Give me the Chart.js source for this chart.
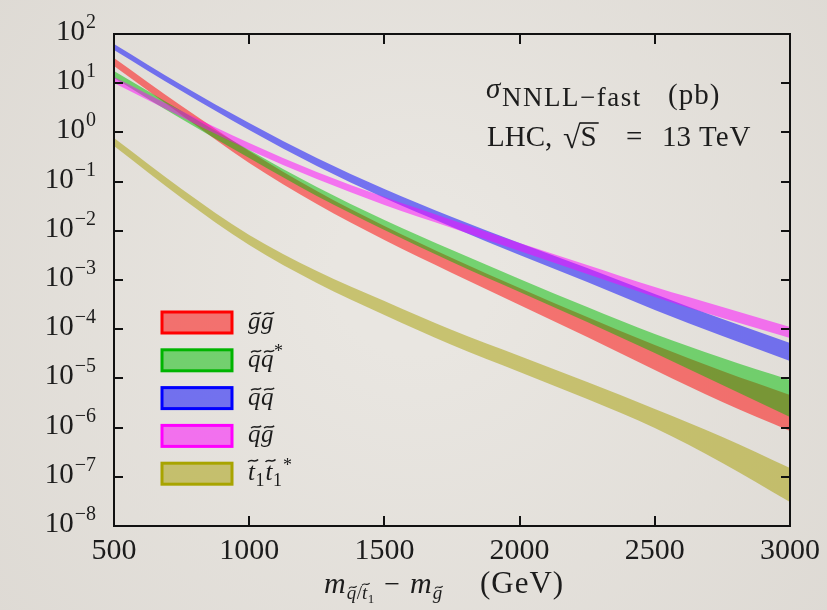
<!DOCTYPE html>
<html><head><meta charset="utf-8">
<script src="https://cdn.jsdelivr.net/npm/chart.js@4.4.1/dist/chart.umd.min.js"></script>
<style>html,body{margin:0;padding:0;background:#e7e4df;}canvas{display:block;}</style>
</head><body>
<canvas id="c" width="827" height="610"></canvas>
<script>
// Mass points (GeV) and NNLL-fast cross sections (pb): upper / lower edge of each band
const massGeV = [500, 750, 1000, 1250, 1500, 1750, 2000, 2250, 2500, 2750, 3000];
const processNames = ['g\u0303g\u0303', 'q\u0303q\u0303*', 'q\u0303q\u0303', 'q\u0303g\u0303', 't\u0303\u2081t\u0303\u2081*'];
const ggUpper = [32.5, 3.44, 0.419, 0.0644, 0.0125, 0.00280, 0.000688, 0.000177, 4.77e-5, 1.41e-5, 4.60e-6];
const ggLower = [22.4, 2.26, 0.239, 0.0351, 0.00650, 0.00139, 0.000310, 6.94e-5, 1.48e-5, 3.31e-6, 8.53e-7];
const sqAntisqUpper = [17.7, 2.72, 0.439, 0.0777, 0.0166, 0.00407, 0.00105, 0.000283, 7.99e-5, 2.60e-5, 9.28e-6];
const sqAntisqLower = [12.8, 1.87, 0.302, 0.0510, 0.0104, 0.00232, 0.000570, 0.000140, 3.28e-5, 7.34e-6, 1.64e-6];
const sqSqUpper = [62.6, 9.19, 1.55, 0.302, 0.0707, 0.0191, 0.00565, 0.00175, 0.000519, 0.000161, 5.24e-5];
const sqSqLower = [47.3, 6.94, 1.12, 0.208, 0.0464, 0.0120, 0.00322, 0.000911, 0.000246, 7.27e-5, 2.26e-5];
const sqGlUpper = [13.4, 2.72, 0.609, 0.157, 0.0486, 0.0166, 0.00565, 0.00202, 0.000721, 0.000283, 0.000111];
const sqGlLower = [10.1, 2.06, 0.439, 0.113, 0.0335, 0.0114, 0.00388, 0.00132, 0.000451, 0.000169, 6.62e-5];
const stopUpper = [0.769, 0.0707, 0.00822, 0.00152, 0.000374, 9.63e-5, 2.85e-5, 8.45e-6, 2.39e-6, 6.44e-7, 1.51e-7];
const stopLower = [0.529, 0.0464, 0.00514, 0.000869, 0.000194, 4.77e-5, 1.35e-5, 3.81e-6, 9.81e-7, 1.91e-7, 3.07e-8];
const xTickValues = [500, 1000, 1500, 2000, 2500, 3000];
const yTickExponents = [2, 1, 0, -1, -2, -3, -4, -5, -6, -7, -8];

const bandEdge = ['#ff0000', '#00b400', '#0000ff', '#ff00ff', '#a8a400'];
const bandFill = ['rgba(255,0,0,0.5)', 'rgba(0,190,0,0.5)', 'rgba(0,0,255,0.5)', 'rgba(255,0,255,0.5)', 'rgba(165,158,0,0.5)'];
// higher order is painted first, so green lies over red
const bandOrder = [5, 4, 3, 2, 1];

const bands = [
  [ggUpper, ggLower], [sqAntisqUpper, sqAntisqLower], [sqSqUpper, sqSqLower],
  [sqGlUpper, sqGlLower], [stopUpper, stopLower]
];

const SERIF = '"Liberation Serif", "DejaVu Serif", serif';
const INK = '#1c1c1c';

const datasets = [];
bands.forEach((b, i) => {
  datasets.push({
    label: processNames[i],
    data: massGeV.map((m, k) => ({ x: m, y: b[0][k] })),
    fill: '+1', backgroundColor: bandFill[i], borderColor: 'rgba(0,0,0,0)',
    borderWidth: 0, pointRadius: 0, cubicInterpolationMode: 'monotone', order: bandOrder[i]
  });
  datasets.push({
    label: processNames[i] + ' low',
    data: massGeV.map((m, k) => ({ x: m, y: b[1][k] })),
    fill: false, borderColor: 'rgba(0,0,0,0)', borderWidth: 0, pointRadius: 0,
    cubicInterpolationMode: 'monotone', order: bandOrder[i]
  });
});

// tilde accent centred at cx
function tilde(ctx, cx, y, half) {
  ctx.beginPath();
  ctx.moveTo(cx - half, y + 1.2);
  ctx.bezierCurveTo(cx - half * 0.4, y - 2.6, cx + half * 0.4, y + 2.6, cx + half, y - 1.2);
  ctx.stroke();
}

// labels such as "q̃q̃*" or "t̃₁t̃₁*": italic letters, tildes, subscript 1, superscript *
function mathText(ctx, str, x, base, size) {
  ctx.save();
  ctx.fillStyle = INK; ctx.strokeStyle = INK; ctx.lineWidth = size * 0.06;
  ctx.textBaseline = 'alphabetic'; ctx.textAlign = 'left';
  const chars = Array.from(str);
  for (let i = 0; i < chars.length; i++) {
    const c = chars[i];
    if (c === '\u0303') continue;
    if (c === '\u2081') {
      ctx.font = `${Math.round(size * 0.7)}px ${SERIF}`;
      ctx.fillText('1', x, base + size * 0.22);
      x += ctx.measureText('1').width + 1;
      continue;
    }
    if (c === '*') {
      ctx.font = `${Math.round(size * 0.7)}px ${SERIF}`;
      ctx.fillText('*', x, base - size * 0.38);
      x += ctx.measureText('*').width;
      continue;
    }
    if (c === '/') {
      ctx.font = `${size}px ${SERIF}`;
      ctx.fillText('/', x, base);
      x += ctx.measureText('/').width;
      continue;
    }
    ctx.font = `italic ${size}px ${SERIF}`;
    ctx.fillText(c, x, base);
    const w = ctx.measureText(c).width;
    if (chars[i + 1] === '\u0303') {
      const top = (c === 't') ? base - size * 0.78 : base - size * 0.62;
      tilde(ctx, x + w * 0.55 + size * 0.05, top, size * 0.2);
    }
    x += w + 0.5;
  }
  ctx.restore();
  return x;
}

function spaced(ctx, text, x, y, spacing) {
  ctx.save();
  ctx.letterSpacing = spacing + 'px';
  ctx.fillText(text, x, y);
  const w = ctx.measureText(text).width;
  ctx.restore();
  return w;
}

const decorPlugin = {
  id: 'decor',
  beforeDraw(chart) {
    const { ctx, width, height } = chart;
    const g = ctx.createRadialGradient(width * 0.5, height * 0.45, 80, width * 0.5, height * 0.5, 600);
    g.addColorStop(0, '#e9e6e1');
    g.addColorStop(1, '#dcd8d2');
    ctx.save(); ctx.fillStyle = g; ctx.fillRect(0, 0, width, height); ctx.restore();
  },
  afterDraw(chart) {
    const { ctx, chartArea: a, scales } = chart;
    const xs = scales.x, ys = scales.y;
    ctx.save();
    // frame
    ctx.strokeStyle = '#111'; ctx.lineWidth = 2;
    ctx.strokeRect(a.left, a.top, a.right - a.left, a.bottom - a.top);
    // inward ticks on all four sides
    yTickExponents.forEach(e => {
      const y = Math.round(ys.getPixelForValue(Math.pow(10, e)));
      ctx.beginPath();
      ctx.moveTo(a.left, y); ctx.lineTo(a.left + 9, y);
      ctx.moveTo(a.right, y); ctx.lineTo(a.right - 9, y);
      ctx.stroke();
    });
    xTickValues.forEach(v => {
      const x = Math.round(xs.getPixelForValue(v));
      ctx.beginPath();
      ctx.moveTo(x, a.bottom); ctx.lineTo(x, a.bottom - 10);
      ctx.moveTo(x, a.top); ctx.lineTo(x, a.top + 10);
      ctx.stroke();
    });
    // y tick labels 10^n
    ctx.fillStyle = INK; ctx.textBaseline = 'alphabetic';
    yTickExponents.forEach(e => {
      const y = ys.getPixelForValue(Math.pow(10, e));
      const exp = e < 0 ? '\u2212' + Math.abs(e) : String(e);
      ctx.font = `20px ${SERIF}`;
      ctx.textAlign = 'right';
      ctx.fillText(exp, 96, y - 6);
      const ew = ctx.measureText(exp).width;
      ctx.font = `29px ${SERIF}`;
      ctx.fillText('10', 96 - ew - 1, y + 6);
    });
    // x axis title: m_{q̃/t̃1} − m_g̃ (GeV)
    let x = 324;
    const tb = 593;
    ctx.textAlign = 'left';
    ctx.font = `italic 30px ${SERIF}`;
    ctx.fillText('m', x, tb); x += ctx.measureText('m').width;
    x = mathText(ctx, 'q\u0303/t\u0303\u2081', x + 1, tb + 6, 19);
    ctx.font = `28px ${SERIF}`;
    ctx.fillText('\u2212', x + 9, tb); x += 9 + ctx.measureText('\u2212').width + 10;
    ctx.font = `italic 30px ${SERIF}`;
    ctx.fillText('m', x, tb); x += ctx.measureText('m').width;
    x = mathText(ctx, 'g\u0303', x + 1, tb + 6, 19);
    ctx.font = `31px ${SERIF}`;
    spaced(ctx, '(GeV)', 480, tb, 1);
    // process and collider annotation
    ctx.font = `italic 29px ${SERIF}`;
    ctx.fillText('\u03c3', 486, 98);
    ctx.font = `27px ${SERIF}`;
    spaced(ctx, 'NNLL\u2212fast', 502, 106, 1.5);
    ctx.font = `29px ${SERIF}`;
    spaced(ctx, '(pb)', 668, 104, 1);
    const b2 = 146;
    ctx.fillText('LHC,', 487, b2);
    ctx.font = `32px ${SERIF}`;
    const rootX = 563;
    ctx.fillText('\u221a', rootX, b2 + 2);
    const rw = ctx.measureText('\u221a').width;
    ctx.font = `29px ${SERIF}`;
    const sx = rootX + rw;
    ctx.fillText('S', sx, b2);
    const sw = ctx.measureText('S').width;
    ctx.lineWidth = 1.6; ctx.strokeStyle = INK;
    ctx.beginPath(); ctx.moveTo(sx - 1, b2 - 23); ctx.lineTo(sx + sw + 2, b2 - 23); ctx.stroke();
    ctx.fillText('=', 626, b2);
    ctx.fillText('13', 662, b2);
    spaced(ctx, 'TeV', 699, b2, 1);
    // legend
    processNames.forEach((name, i) => {
      const top = 312 + i * 37.8;
      ctx.fillStyle = bandFill[i];
      ctx.fillRect(162, top, 70, 21);
      ctx.strokeStyle = bandEdge[i]; ctx.lineWidth = 3;
      ctx.strokeRect(162, top, 70, 21);
      mathText(ctx, name, 248, top + 17, 25);
    });
    ctx.restore();
  }
};

new Chart(document.getElementById('c'), {
  type: 'line',
  data: { datasets },
  plugins: [decorPlugin],
  options: {
    responsive: false, animation: false, devicePixelRatio: 1,
    layout: { padding: { top: 34, right: 34, left: 0, bottom: 0 } },
    plugins: { legend: { display: false }, tooltip: { enabled: false }, filler: { propagate: false } },
    scales: {
      x: {
        type: 'linear', min: 500, max: 3000,
        afterBuildTicks: s => { s.ticks = xTickValues.map(v => ({ value: v })); },
        afterFit: s => { s.height = 84; },
        ticks: { font: { family: SERIF, size: 30 }, color: INK, padding: 7, maxRotation: 0, autoSkip: false,
                 callback: v => String(v) },
        grid: { display: false, drawTicks: false }, border: { display: false }
      },
      y: {
        type: 'logarithmic', min: 1e-8, max: 100,
        afterBuildTicks: s => { s.ticks = yTickExponents.map(e => ({ value: Math.pow(10, e) })); },
        afterFit: s => { s.width = 114; },
        ticks: { display: false },
        grid: { display: false, drawTicks: false }, border: { display: false }
      }
    }
  }
});
</script>
</body></html>
